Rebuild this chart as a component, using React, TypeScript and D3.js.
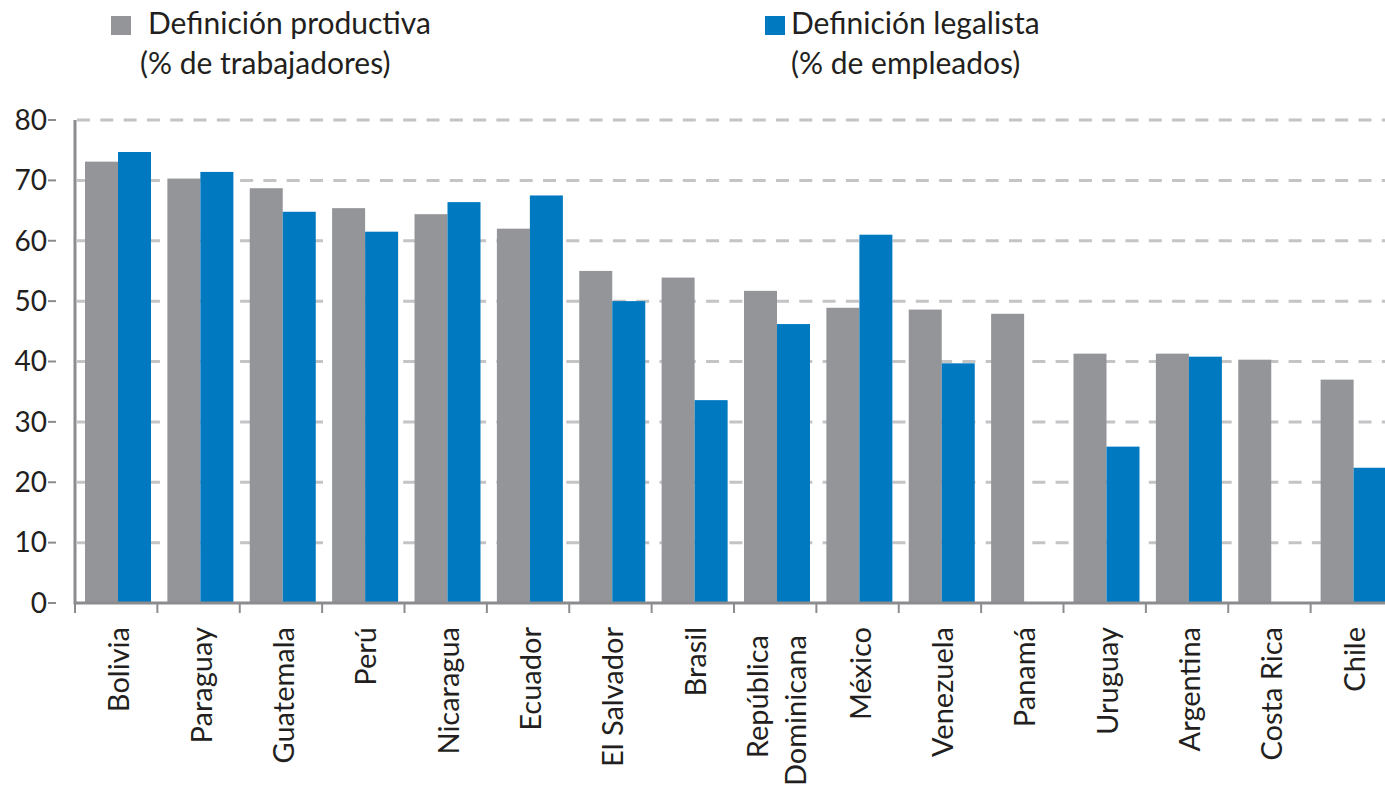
import React, { useEffect, useRef } from "react";
import * as d3 from "d3";

const countries = [
  "Bolivia", "Paraguay", "Guatemala", "Perú", "Nicaragua", "Ecuador", "El Salvador", "Brasil",
  "República Dominicana", "México", "Venezuela", "Panamá", "Uruguay", "Argentina", "Costa Rica", "Chile",
];
const productiva = [73.1, 70.3, 68.7, 65.4, 64.4, 62.0, 55.0, 53.9, 51.7, 48.9, 48.6, 47.9, 41.3, 41.3, 40.3, 37.0];
const legalista: (number | null)[] = [74.7, 71.4, 64.8, 61.5, 66.4, 67.5, 50.0, 33.6, 46.2, 61.0, 39.7, null, 25.9, 40.8, null, 22.4];
const yTicks = [0, 10, 20, 30, 40, 50, 60, 70, 80];
const seriesKeys = ["productiva", "legalista"];
const seriesColors = ["#939598", "#0079c1"];
const legendLines = [
  ["Definición productiva", "(% de trabajadores)"],
  ["Definición legalista", "(% de empleados)"],
];

const FONT = "Lato, 'Open Sans', sans-serif";
const TEXT = "#231f20";
const AXIS = "#8c8c8f";

const App: React.FC = () => {
  const svgRef = useRef<SVGSVGElement | null>(null);

  useEffect(() => {
    if (!svgRef.current) return;
    const width = 1385;
    const left = 74;
    const right = 1392;
    const top = 120;
    const bottom = 603;

    const svg = d3.select(svgRef.current);
    svg.selectAll("*").remove();

    const x = d3.scaleBand<string>().domain(countries).range([left, right]).padding(0);
    const xInner = d3.scaleBand<string>().domain(seriesKeys).range([11, 77]).padding(0);
    const y = d3.scaleLinear().domain([0, 80]).range([bottom, top]);

    // gridlines
    svg.append("g")
      .selectAll("line")
      .data(yTicks.filter(t => t > 0))
      .enter()
      .append("line")
      .attr("x1", left + 3)
      .attr("x2", width)
      .attr("y1", d => y(d))
      .attr("y2", d => y(d))
      .attr("stroke", "#c4c4c7")
      .attr("stroke-width", 3)
      .attr("stroke-dasharray", "13 10.3");

    // bars
    const rows = countries.map((c, i) => ({ c, vals: [productiva[i], legalista[i]] }));
    const groups = svg.append("g")
      .selectAll("g")
      .data(rows)
      .enter()
      .append("g")
      .attr("transform", d => `translate(${x(d.c)},0)`);

    groups.selectAll("rect")
      .data(d => d.vals.map((v, k) => ({ key: seriesKeys[k], v, k })).filter(e => e.v != null))
      .enter()
      .append("rect")
      .attr("x", d => xInner(d.key) ?? 0)
      .attr("width", xInner.bandwidth())
      .attr("y", d => y(d.v as number))
      .attr("height", d => bottom - y(d.v as number))
      .attr("fill", d => seriesColors[d.k]);

    // axes lines
    svg.append("line")
      .attr("x1", left + 1).attr("x2", left + 1)
      .attr("y1", top).attr("y2", bottom + 1.5)
      .attr("stroke", AXIS).attr("stroke-width", 3);
    svg.append("line")
      .attr("x1", left).attr("x2", width)
      .attr("y1", bottom).attr("y2", bottom)
      .attr("stroke", AXIS).attr("stroke-width", 3);

    // x ticks at band boundaries
    svg.append("g")
      .selectAll("line")
      .data(countries)
      .enter()
      .append("line")
      .attr("x1", d => (x(d) ?? 0) + 1)
      .attr("x2", d => (x(d) ?? 0) + 1)
      .attr("y1", bottom)
      .attr("y2", bottom + 10)
      .attr("stroke", AXIS)
      .attr("stroke-width", 2);

    // y ticks + labels
    const yg = svg.append("g");
    yg.selectAll("line")
      .data(yTicks)
      .enter()
      .append("line")
      .attr("x1", 48).attr("x2", 56)
      .attr("y1", d => y(d)).attr("y2", d => y(d))
      .attr("stroke", AXIS).attr("stroke-width", 2);
    yg.selectAll("text")
      .data(yTicks)
      .enter()
      .append("text")
      .attr("x", 47)
      .attr("y", d => y(d))
      .attr("dy", "0.35em")
      .attr("text-anchor", "end")
      .attr("font-family", FONT)
      .attr("font-size", 28)
      .attr("fill", TEXT)
      .text(d => String(d));

    // x labels (rotated)
    const xl = svg.append("g");
    countries.forEach(c => {
      const cx = (x(c) ?? 0) + x.bandwidth() / 2;
      const parts = c === "República Dominicana" ? ["República", "Dominicana"] : [c];
      const yEnd = parts.length > 1 ? 635 : 627;
      parts.forEach((p, j) => {
        const off = parts.length > 1 ? (j === 0 ? -6 : 32) : 14;
        xl.append("text")
          .attr("transform", `translate(${cx + off},${yEnd}) rotate(-90)`)
          .attr("text-anchor", "end")
          .attr("font-family", FONT)
          .attr("font-size", 29)
          .attr("fill", TEXT)
          .text(p);
      });
    });

    // legend
    const legendX = [111, 765];
    const textX = [148, 791];
    const line2X = [140, 791];
    legendLines.forEach((lines, i) => {
      const lg = svg.append("g");
      lg.append("rect")
        .attr("x", legendX[i]).attr("y", 16)
        .attr("width", 20).attr("height", 19)
        .attr("fill", seriesColors[i]);
      lg.append("text")
        .attr("x", textX[i]).attr("y", 34)
        .attr("font-family", FONT).attr("font-size", 30).attr("fill", TEXT)
        .text(lines[0]);
      lg.append("text")
        .attr("x", line2X[i]).attr("y", 74)
        .attr("font-family", FONT).attr("font-size", 30).attr("fill", TEXT)
        .text(lines[1]);
    });
  }, []);

  return (
    <svg
      ref={svgRef}
      width={1385}
      height={787}
      style={{ position: "absolute", left: 0, top: 0, background: "#fff" }}
    />
  );
};

export default App;
